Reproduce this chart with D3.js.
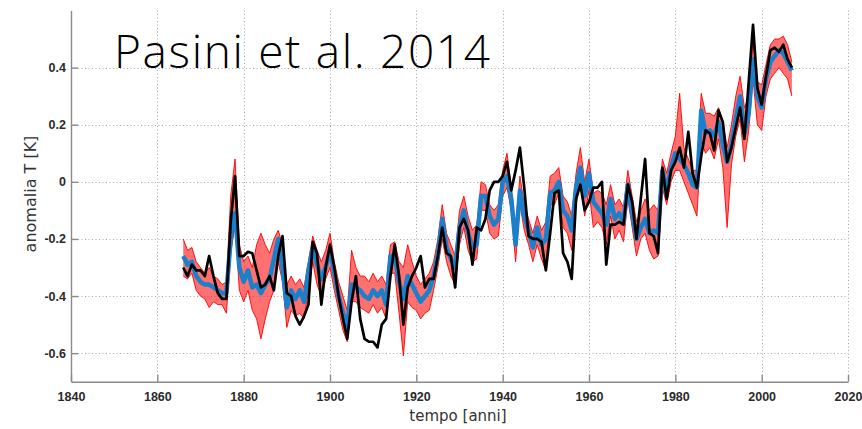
<!DOCTYPE html>
<html><head><meta charset="utf-8">
<script src="https://cdn.jsdelivr.net/npm/d3@7"></script>
<style>body{margin:0;background:#fff} svg{display:block}</style>
</head><body>
<svg id="c" width="862" height="429"></svg>
<script>
const firstYear = 1866, lastYear = 2007;

// observed anomaly (black)
const observed = [
 -0.30, -0.33, -0.29, -0.31,
 -0.31, -0.33, -0.26, -0.33, -0.39, -0.41, -0.41, -0.14, 0.02, -0.26,
 -0.26, -0.245, -0.25, -0.31, -0.37, -0.36, -0.33, -0.38, -0.26, -0.19,
 -0.39, -0.40, -0.47, -0.50, -0.47, -0.43, -0.21, -0.25, -0.43, -0.30,
 -0.22, -0.30, -0.40, -0.48, -0.55, -0.42, -0.33, -0.48, -0.55, -0.56,
 -0.56, -0.58, -0.50, -0.48, -0.33, -0.22, -0.33, -0.50, -0.37, -0.33,
 -0.30, -0.26, -0.37, -0.34, -0.34, -0.26, -0.16, -0.25, -0.26, -0.37,
 -0.16, -0.13, -0.17, -0.29, -0.16, -0.17, -0.13, -0.03, 0.00, 0.00,
 0.02, 0.07, -0.03, 0.04, 0.12, -0.02, -0.19, -0.20, -0.20, -0.21,
 -0.31, -0.18, -0.04, -0.03, -0.25, -0.28, -0.34, -0.06, -0.01, -0.10,
 -0.07, -0.02, -0.02, 0.00, -0.29, -0.15, -0.15, -0.14, -0.15, -0.01,
 -0.07, -0.20, -0.06, 0.08, -0.18, -0.19, -0.25, 0.05, -0.06, 0.04,
 0.07, 0.12, 0.05, 0.175, 0.03, -0.02, 0.09, 0.18, 0.17, 0.11,
 0.25, 0.21, 0.07, 0.12, 0.19, 0.26, 0.15, 0.35, 0.55, 0.33,
 0.27, 0.37, 0.46, 0.47, 0.455, 0.48, 0.43, 0.40
];

// ensemble mean (blue)
const ensembleMean = [
 -0.26, -0.29, -0.28, -0.33,
 -0.35, -0.36, -0.36, -0.37, -0.38, -0.39, -0.39, -0.20, -0.11, -0.30,
 -0.35, -0.31, -0.37, -0.36, -0.39, -0.36, -0.34, -0.27, -0.20, -0.30,
 -0.44, -0.38, -0.41, -0.38, -0.42, -0.31, -0.23, -0.29, -0.34, -0.30,
 -0.24, -0.32, -0.40, -0.46, -0.51, -0.36, -0.37, -0.38, -0.40, -0.41,
 -0.38, -0.40, -0.38, -0.43, -0.26, -0.26, -0.35, -0.41, -0.33, -0.36,
 -0.39, -0.42, -0.40, -0.38, -0.33, -0.25, -0.13, -0.23, -0.27, -0.30,
 -0.16, -0.10, -0.18, -0.23, -0.22, -0.05, -0.05, -0.12, -0.15, -0.13,
 0.00, 0.02, -0.06, -0.22, -0.03, -0.12, -0.17, -0.23, -0.16, -0.22,
 -0.20, -0.04, -0.03, 0.00, -0.10, -0.12, -0.17, -0.02, 0.05, -0.05,
 0.03, -0.07, -0.09, -0.11, -0.15, -0.06, -0.13, -0.11, -0.14, -0.01,
 -0.11, -0.20, -0.16, -0.13, -0.18, -0.17, -0.18, 0.04, -0.03, 0.05,
 0.10, 0.08, 0.06, 0.03, -0.01, -0.02, 0.25, 0.17, 0.18, 0.16,
 0.21, 0.13, 0.07, 0.13, 0.22, 0.30, 0.17, 0.24, 0.43, 0.30,
 0.26, 0.36, 0.42, 0.44, 0.46, 0.45, 0.42, 0.39
];

// ensemble members spread: upper and lower envelope (red)
const ensembleHigh = [
 -0.20, -0.24, -0.23, -0.28,
 -0.30, -0.32, -0.30, -0.33, -0.34, -0.36, -0.35, -0.05, 0.08, -0.22,
 -0.28, -0.26, -0.30, -0.22, -0.18, -0.22, -0.25, -0.20, -0.17, -0.22,
 -0.36, -0.33, -0.36, -0.34, -0.37, -0.28, -0.19, -0.24, -0.28, -0.24,
 -0.18, -0.28, -0.35, -0.40, -0.45, -0.24, -0.30, -0.33, -0.33, -0.35,
 -0.32, -0.35, -0.33, -0.36, -0.22, -0.21, -0.28, -0.30, -0.22, -0.28,
 -0.33, -0.36, -0.34, -0.32, -0.28, -0.20, -0.08, -0.18, -0.22, -0.26,
 -0.10, -0.05, -0.12, -0.17, -0.15, 0.00, -0.01, -0.08, -0.10, -0.08,
 0.04, 0.10, -0.02, -0.16, 0.02, -0.08, -0.13, -0.18, -0.12, -0.17,
 -0.14, 0.02, 0.03, 0.05, -0.05, -0.07, -0.12, 0.03, 0.12, 0.00,
 0.08, -0.04, -0.03, -0.04, -0.08, -0.01, -0.08, -0.06, -0.09, 0.04,
 -0.05, -0.14, -0.10, -0.06, -0.10, -0.08, -0.10, 0.08, 0.03, 0.10,
 0.16, 0.31, 0.12, 0.08, 0.04, 0.04, 0.31, 0.24, 0.24, 0.23,
 0.26, 0.21, 0.12, 0.20, 0.30, 0.37, 0.26, 0.30, 0.50, 0.35,
 0.34, 0.41, 0.48, 0.50, 0.50, 0.51, 0.48, 0.42
];
const ensembleLow = [
 -0.33, -0.34, -0.32, -0.38,
 -0.40, -0.41, -0.44, -0.42, -0.43, -0.43, -0.46, -0.25, -0.15, -0.38,
 -0.42, -0.38, -0.45, -0.48, -0.55, -0.48, -0.42, -0.38, -0.28, -0.35,
 -0.51, -0.45, -0.47, -0.46, -0.48, -0.38, -0.28, -0.36, -0.40, -0.34,
 -0.30, -0.38, -0.45, -0.52, -0.56, -0.42, -0.42, -0.44, -0.45, -0.46,
 -0.43, -0.46, -0.44, -0.48, -0.32, -0.32, -0.46, -0.61, -0.42, -0.44,
 -0.45, -0.48, -0.46, -0.45, -0.38, -0.30, -0.20, -0.28, -0.33, -0.36,
 -0.22, -0.16, -0.24, -0.28, -0.27, -0.10, -0.10, -0.18, -0.20, -0.19,
 -0.05, -0.02, -0.10, -0.28, -0.08, -0.17, -0.22, -0.28, -0.22, -0.27,
 -0.31, -0.08, -0.08, -0.04, -0.16, -0.18, -0.24, -0.08, 0.00, -0.12,
 -0.03, -0.16, -0.14, -0.16, -0.22, -0.12, -0.20, -0.17, -0.21, -0.06,
 -0.16, -0.26, -0.20, -0.18, -0.24, -0.27, -0.26, -0.02, -0.08, 0.00,
 0.04, 0.04, 0.00, -0.04, -0.08, -0.12, 0.14, 0.10, 0.12, 0.08,
 0.15, 0.05, -0.16, 0.06, 0.16, 0.22, 0.07, 0.18, 0.36, 0.20,
 0.18, 0.30, 0.36, 0.38, 0.40, 0.38, 0.36, 0.30
];

const xTicks = [1840, 1860, 1880, 1900, 1920, 1940, 1960, 1980, 2000, 2020];
const yTicks = [-0.6, -0.4, -0.2, 0, 0.2, 0.4];
const titleText = "Pasini et al. 2014";
const xLabel = "tempo [anni]";
const yLabel = "anomalia T [K]";

const years = d3.range(firstYear, lastYear + 1);

const svg = d3.select('#c');
const x = d3.scaleLinear().domain([1840, 2020]).range([71, 848]);
const y = d3.scaleLinear().domain([-0.7, 0.6]).range([381.7, 10.5]);

// grid
const grid = svg.append('g').attr('stroke', '#a8a8a8').attr('stroke-width', 1).attr('stroke-dasharray', '1,2.5');
grid.selectAll('.vg').data(xTicks.slice(1)).join('line')
  .attr('x1', d => Math.round(x(d)) + 0.5).attr('x2', d => Math.round(x(d)) + 0.5)
  .attr('y1', y(0.6)).attr('y2', y(-0.7));
grid.selectAll('.hg').data(yTicks).join('line')
  .attr('x1', x(1840)).attr('x2', x(2020))
  .attr('y1', d => Math.round(y(d)) + 0.5).attr('y2', d => Math.round(y(d)) + 0.5);

// red ensemble spread
const band = years.map((yr, i) => ({yr, lo: ensembleLow[i], hi: ensembleHigh[i]}));
svg.append('path').datum(band)
  .attr('d', d3.area().x(d => x(d.yr)).y0(d => y(d.lo)).y1(d => y(d.hi)))
  .attr('fill', '#ff1010').attr('fill-opacity', 0.6);
[ensembleHigh, ensembleLow].forEach(arr => {
  svg.append('path').datum(arr)
    .attr('d', d3.line().x((d, i) => x(years[i])).y(d => y(d)))
    .attr('fill', 'none').attr('stroke', '#ff0000').attr('stroke-width', 1).attr('stroke-opacity', 0.9);
});

// blue mean
svg.append('path').datum(ensembleMean)
  .attr('d', d3.line().x((d, i) => x(years[i])).y(d => y(d)))
  .attr('fill', 'none').attr('stroke', '#1a80cc').attr('stroke-width', 4.5)
  .attr('stroke-linejoin', 'round');

// black observed
svg.append('path').datum(observed)
  .attr('d', d3.line().x((d, i) => x(years[i])).y(d => y(d)))
  .attr('fill', 'none').attr('stroke', '#000').attr('stroke-width', 2.7)
  .attr('stroke-linejoin', 'round');

// axes
const fmt = d => d === 0 ? '0' : d3.format('.1f')(d).replace('−', '-');
const xAxis = svg.append('g').attr('transform', `translate(0,${y(-0.7)})`)
  .call(d3.axisBottom(x).tickValues(xTicks).tickFormat(d3.format('d')).tickSize(-7).tickSizeOuter(0).tickPadding(10));
const yAxis = svg.append('g').attr('transform', `translate(${x(1840)},0)`)
  .call(d3.axisLeft(y).tickValues(yTicks).tickFormat(fmt).tickSize(-7).tickSizeOuter(0).tickPadding(5));
[xAxis, yAxis].forEach(g => {
  g.select('.domain').attr('stroke', '#8a8a8a').attr('stroke-width', 1.4);
  g.selectAll('.tick line').attr('stroke', '#8a8a8a').attr('stroke-width', 1.4);
  g.selectAll('.tick text').attr('fill', '#2a2a2a')
    .style('font-family', '"Liberation Sans", Arial, sans-serif').style('font-weight', 'bold').style('font-size', '12.5px');
});

// labels
svg.append('text').attr('x', 458).attr('y', 421).attr('text-anchor', 'middle')
  .style('font-family', '"DejaVu Sans", sans-serif').style('font-size', '15px').attr('fill', '#333')
  .text(xLabel);
svg.append('text').attr('transform', 'translate(36,194) rotate(-90)').attr('text-anchor', 'middle')
  .style('font-family', '"DejaVu Sans", sans-serif').style('font-size', '16px').attr('fill', '#333')
  .text(yLabel);

// title
svg.append('text').attr('x', 114).attr('y', 68.3)
  .attr('textLength', 376).attr('lengthAdjust', 'spacing')
  .style('font-family', '"Open Sans", sans-serif').style('font-weight', 300).style('font-size', '46px')
  .attr('fill', '#000').text(titleText);
</script>
</body></html>
